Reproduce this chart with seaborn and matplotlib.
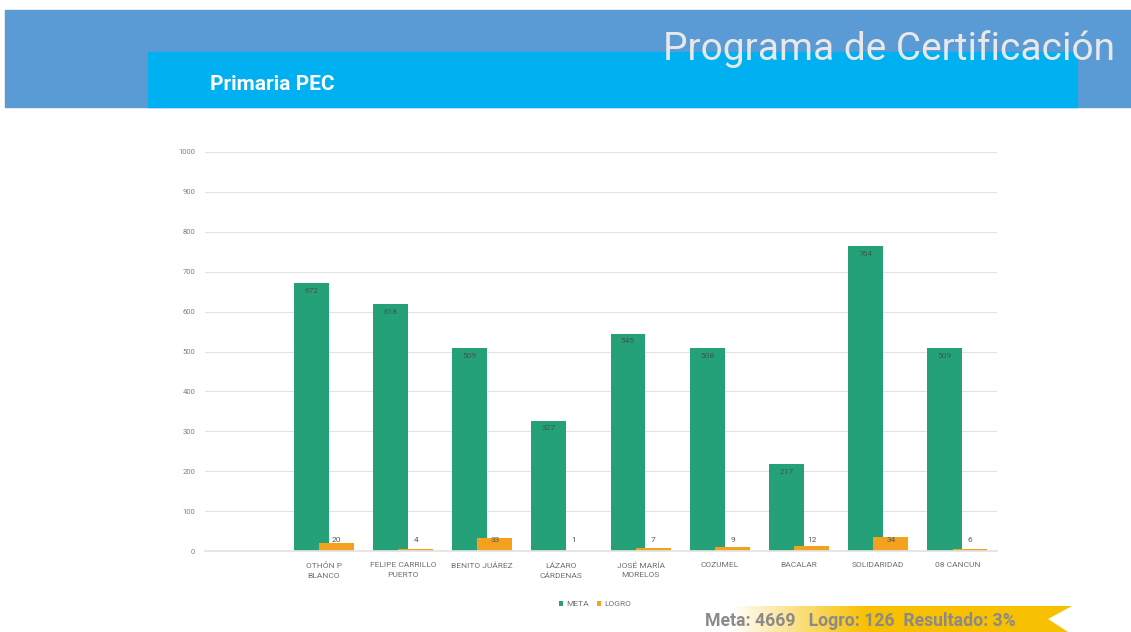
"""Programa de Certificación - Primaria PEC, meta vs logro por municipio."""

import matplotlib.pyplot as plt
import numpy as np
import pandas as pd
import seaborn as sns
from matplotlib.colors import LinearSegmentedColormap
from matplotlib.patches import Polygon, Rectangle

municipios = [
    "OTHÓN P\nBLANCO",
    "FELIPE CARRILLO\nPUERTO",
    "BENITO JUÁREZ",
    "LÁZARO\nCÁRDENAS",
    "JOSÉ MARÍA\nMORELOS",
    "COZUMEL",
    "BACALAR",
    "SOLIDARIDAD",
    "08 CANCUN",
]
meta = [672, 618, 509, 327, 545, 508, 217, 764, 509]
logro = [20, 4, 33, 1, 7, 9, 12, 34, 6]
y_ticks = list(range(0, 1001, 100))

df = pd.DataFrame({"municipio": municipios, "META": meta, "LOGRO": logro})

verde = "#25a179"
naranja = "#f4a11d"

sns.set_theme(style="white")
plt.rcParams["font.family"] = ["Roboto", "DejaVu Sans"]

fig = plt.figure(figsize=(11.31, 6.32), dpi=100)

# fondo y encabezado en pixeles
bg = fig.add_axes([0, 0, 1, 1], zorder=0)
bg.add_patch(Rectangle((5, 10), 1126, 97, color="#5b9bd5"))
bg.add_patch(Rectangle((148, 52), 929, 55, color="#00b0f0"))
bg.text(1115, 49, "Programa de Certificación", ha="right", va="center",
        fontsize=28, color="#e8e8e8")
bg.text(210, 84, "Primaria PEC", ha="left", va="center",
        fontsize=15, color="white", weight="bold")

# cinta amarilla inferior
cinta = Polygon([(730, 606), (1072, 606), (1048, 619), (1068, 632), (730, 632)],
                closed=True, facecolor="none", edgecolor="none")
bg.add_patch(cinta)
cmap = LinearSegmentedColormap.from_list(
    "cinta", [(0, "white"), (0.4, "#f7c000"), (1, "#f7c000")])
im = bg.imshow(np.linspace(0, 1, 256).reshape(1, -1), extent=(730, 1072, 632, 606),
               cmap=cmap, aspect="auto")
im.set_clip_path(cinta)

total_meta = sum(meta)
total_logro = sum(logro)
resultado = round(100 * total_logro / total_meta)
bg.text(705, 621, f"Meta: {total_meta}   Logro: {total_logro}  Resultado: {resultado}%",
        ha="left", va="center", fontsize=12.7, color="#8a8a8a", weight="bold")
bg.set_xlim(0, 1131)
bg.set_ylim(632, 0)
bg.axis("off")

# grafica de barras
ax = fig.add_axes([205 / 1131, 81 / 632, 792 / 1131, 399 / 632], zorder=1)
ax.patch.set_alpha(0)
sns.barplot(data=df, x="municipio", y="META", color=verde, width=0.44,
            saturation=1, linewidth=0, ax=ax, label="META")
n_meta = len(ax.patches)
sns.barplot(data=df, x="municipio", y="LOGRO", color=naranja, width=0.44,
            saturation=1, linewidth=0, ax=ax, label="LOGRO")
for i, p in enumerate(ax.patches):
    p.set_x(p.get_x() + (-0.16 if i < n_meta else 0.16))
if ax.get_legend() is not None:
    ax.get_legend().remove()

for i, (m, l) in enumerate(zip(meta, logro)):
    ax.text(i - 0.16, m - 12, str(m), ha="center", va="top", fontsize=6, color="#3c5a4c")
    ax.text(i + 0.16, 28, str(l), ha="center", va="center", fontsize=6, color="#595959")

ax.set_xlim(-1.5, 8.5)
ax.set_ylim(0, 1000)
ax.set_yticks(y_ticks)
ax.yaxis.grid(True, color="#e3e3e3", linewidth=0.8)
ax.set_axisbelow(True)
for s in ["top", "right", "left"]:
    ax.spines[s].set_visible(False)
ax.spines["bottom"].set_color("#e3e3e3")
ax.tick_params(axis="y", labelsize=5.5, colors="#808080", length=0, pad=7)
ax.tick_params(axis="x", labelsize=6, colors="#707070", length=0, pad=8)
for t in ax.get_xticklabels():
    t.set_linespacing(1.7)
ax.set_xlabel("")
ax.set_ylabel("")

fig.legend(handles=ax.containers[:2], labels=["META", "LOGRO"], loc="center",
           bbox_to_anchor=(595 / 1131, 1 - 604 / 632), ncol=2, frameon=False,
           fontsize=6, handlelength=0.5, handleheight=0.5, columnspacing=1,
           handletextpad=0.4, labelcolor="#707070")

plt.savefig("out.png", dpi=100)
plt.close()
